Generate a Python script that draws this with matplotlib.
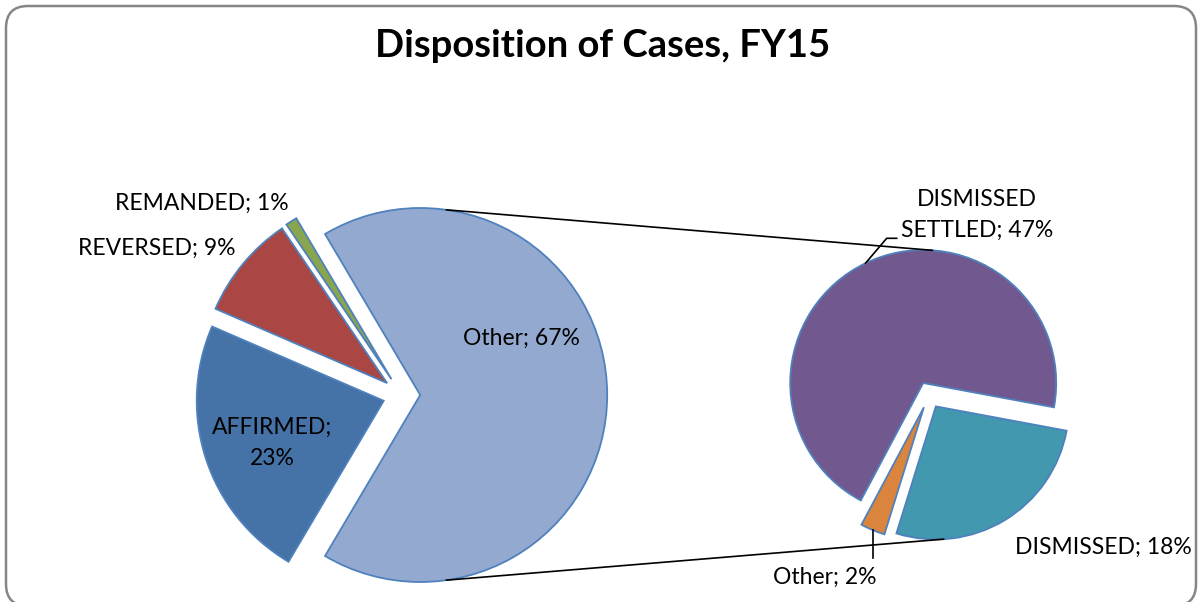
import numpy as np
import matplotlib
matplotlib.use("Agg")
import matplotlib.pyplot as plt
from matplotlib.patches import FancyBboxPatch, ConnectionPatch

# 图像大小(像素)
W, H = 1198, 602

# 主饼图数据
main_labels = ["AFFIRMED", "REVERSED", "REMANDED", "Other"]
main_pct = [23, 9, 1, 67]
main_colors = ["#4572a7", "#aa4643", "#89a54e", "#93a9cf"]

# 次饼图数据(主饼图中 Other 的拆分)
sub_labels = ["DISMISSED SETTLED", "DISMISSED", "Other"]
sub_pct = [47, 18, 2]
sub_colors = ["#71588f", "#4198af", "#db843d"]

title = "Disposition of Cases, FY15"

plt.rcParams["font.family"] = ["Lato", "DejaVu Sans"]

fig = plt.figure(figsize=(W / 100, H / 100), dpi=100)
fig.patch.set_facecolor("white")


def pie_axes(cx, cy, r, lim=1.3):
    """
    在像素坐标 (cx, cy) 处(y 向下)建立一个正方形坐标轴, 半径 1 对应 r 像素
    """
    side = 2 * lim * r
    ax = fig.add_axes([(cx - side / 2) / W, (H - cy - side / 2) / H, side / W, side / H])
    return ax


edge = dict(edgecolor="#4f81bd", linewidth=1.3)

# 主饼图: Other 居中在右侧
ax1 = pie_axes(401.5, 395, 187)
other_span = main_pct[-1] / sum(main_pct) * 360
w1, _ = ax1.pie(main_pct, colors=main_colors, explode=[0.1] * len(main_pct),
                startangle=-other_span / 2, counterclock=False, wedgeprops=edge)
ax1.set_xlim(-1.3, 1.3)
ax1.set_ylim(-1.3, 1.3)

# 次饼图
ax2 = pie_axes(929, 395, 133)
w2, _ = ax2.pie(sub_pct, colors=sub_colors, explode=[0.1] * len(sub_pct),
                startangle=242, counterclock=False, wedgeprops=edge)
ax2.set_xlim(-1.3, 1.3)
ax2.set_ylim(-1.3, 1.3)


def arc_point(w, angle):
    a = np.deg2rad(angle)
    return (w.center[0] + w.r * np.cos(a), w.center[1] + w.r * np.sin(a))


# 连接线: 主饼 Other 的上下边缘 -> 次饼上下边缘
for a1, wb, a2 in [(82, w2[0], 86), (-82, w2[1], -86.6)]:
    con = ConnectionPatch(xyA=arc_point(w1[-1], a1), coordsA=ax1.transData,
                          xyB=arc_point(wb, a2), coordsB=ax2.transData,
                          color="black", linewidth=1.2)
    fig.add_artist(con)

# 外框(像素坐标, y 向上)
border = FancyBboxPatch((6, -4), 1190, 600, boxstyle="round,pad=0,rounding_size=22",
                        facecolor="none", edgecolor="#868686", linewidth=1.8, transform=None)
fig.add_artist(border)

# 顶层坐标轴(像素坐标, y 向下), 放文字
top = fig.add_axes([0, 0, 1, 1])
top.set_xlim(0, W)
top.set_ylim(H, 0)
top.axis("off")
top.patch.set_alpha(0)

top.text(603, 57, title, ha="center", va="baseline", fontsize=27.5, fontweight="bold")


def to_px(ax, pt):
    x, y = ax.transData.transform(pt)
    return x, H - y


def mid_angle(w):
    return (w.theta1 + w.theta2) / 2


fs = 16.5
# 主饼图标签
top.text(521, 345, "%s; %d%%" % (main_labels[3], main_pct[3]), ha="center", va="baseline", fontsize=fs)
top.text(272, 465, "%s;\n%d%%" % (main_labels[0], main_pct[0]), ha="center", va="baseline",
         fontsize=fs, linespacing=1.6, multialignment="center")
top.text(157, 255, "%s; %d%%" % (main_labels[1], main_pct[1]), ha="center", va="baseline", fontsize=fs)
top.text(202, 210, "%s; %d%%" % (main_labels[2], main_pct[2]), ha="center", va="baseline", fontsize=fs)

# 次饼图标签
top.text(977, 237, "DISMISSED\nSETTLED; %d%%" % sub_pct[0], ha="center", va="baseline",
         fontsize=fs, linespacing=1.6, multialignment="center")
top.text(1103, 554, "%s; %d%%" % (sub_labels[1], sub_pct[1]), ha="center", va="baseline", fontsize=fs)
top.text(825, 584, "%s; %d%%" % (sub_labels[2], sub_pct[2]), ha="center", va="baseline", fontsize=fs)

# 引导线
px, py = to_px(ax2, arc_point(w2[0], mid_angle(w2[0])))
top.plot([px, 886.7, 896.7], [py, 238.3, 238.3], color="black", linewidth=1.2)
px, py = to_px(ax2, arc_point(w2[2], mid_angle(w2[2])))
top.plot([px, px], [py, 558], color="black", linewidth=1.2)

fig.savefig("out.png", dpi=100, facecolor="white")
